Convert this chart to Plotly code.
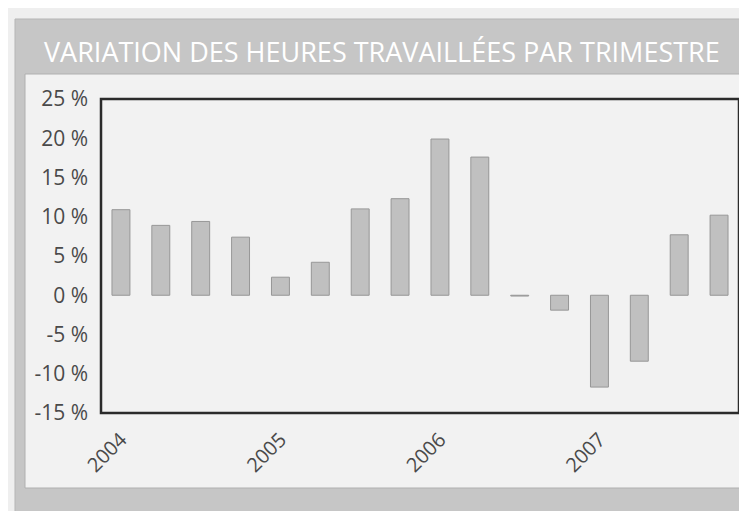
import plotly.graph_objects as go

# ---- data ----
quarters = ["2004 T1", "2004 T2", "2004 T3", "2004 T4",
            "2005 T1", "2005 T2", "2005 T3", "2005 T4",
            "2006 T1", "2006 T2", "2006 T3", "2006 T4",
            "2007 T1", "2007 T2", "2007 T3", "2007 T4"]
variation = [10.9, 8.9, 9.4, 7.4, 2.3, 4.2, 11.0, 12.3,
             19.9, 17.6, -0.1, -1.9, -11.7, -8.4, 7.7, 10.2]
year_labels = ["2004", "2005", "2006", "2007"]
y_tick_values = [-15, -10, -5, 0, 5, 10, 15, 20, 25]
y_tick_labels = ["-15 %", "-10 %", "-5 %", "0 %", "5 %", "10 %", "15 %", "20 %", "25 %"]
title_text = "VARIATION DES HEURES TRAVAILLÉES PAR TRIMESTRE"

W, H = 747, 511
L, R, T, B = 93, 16, 91, 106
pw, ph = W - L - R, H - T - B

def px(x):
    return (x - L) / pw

def py(y):
    return (H - B - y) / ph

x_idx = list(range(len(quarters)))
year_ticks = [i for i, q in enumerate(quarters) if q.endswith("T1")]

fig = go.Figure()
fig.add_trace(go.Bar(
    x=x_idx, y=variation, width=0.45,
    marker=dict(color="#c0c0c0", line=dict(color="#979797", width=1)),
    hovertext=quarters, showlegend=False,
))

shapes = [
    # page
    dict(type="rect", xref="paper", yref="paper", x0=px(0), x1=px(W), y0=py(H), y1=py(0),
         fillcolor="#efefef", line=dict(width=0), layer="below"),
    # gray frame
    dict(type="rect", xref="paper", yref="paper", x0=px(7), x1=px(W + 2), y0=py(H + 2), y1=py(11),
         fillcolor="#c6c6c6", line=dict(color="#b5b5b5", width=1), layer="below"),
    # inner panel
    dict(type="rect", xref="paper", yref="paper", x0=px(17), x1=px(742), y0=py(480), y1=py(66),
         fillcolor="#f2f2f2", line=dict(color="#b0b0b0", width=1), layer="below"),
    # plot box
    dict(type="rect", xref="paper", yref="paper", x0=0, x1=1, y0=0, y1=1,
         fillcolor="rgba(0,0,0,0)", line=dict(color="#2b2b2b", width=2.5), layer="above"),
]

fig.update_layout(
    width=W, height=H,
    margin=dict(l=L, r=R, t=T, b=B),
    paper_bgcolor="#efefef", plot_bgcolor="#f3f3f3",
    shapes=shapes,
    annotations=[dict(
        text=title_text, xref="paper", yref="paper",
        x=px(34), y=py(43), xanchor="left", yanchor="middle", showarrow=False,
        font=dict(family="Open Sans", size=27, color="#ffffff"),
    )],
    font=dict(family="Open Sans", color="#4a4a4a"),
)
fig.update_xaxes(
    range=[-0.5, len(quarters) - 0.5],
    tickmode="array", tickvals=year_ticks, ticktext=year_labels,
    tickangle=-45, tickfont=dict(size=20, color="#4a4a4a"),
    showgrid=False, zeroline=False, ticks="", showline=False,
    ticklabelstandoff=10,
)
fig.update_yaxes(
    range=[-15, 25],
    tickmode="array", tickvals=y_tick_values, ticktext=y_tick_labels,
    tickfont=dict(size=21, color="#4a4a4a"),
    showgrid=False, zeroline=False, ticks="", showline=False,
    ticklabelstandoff=12,
)

fig.write_html("out.html")
